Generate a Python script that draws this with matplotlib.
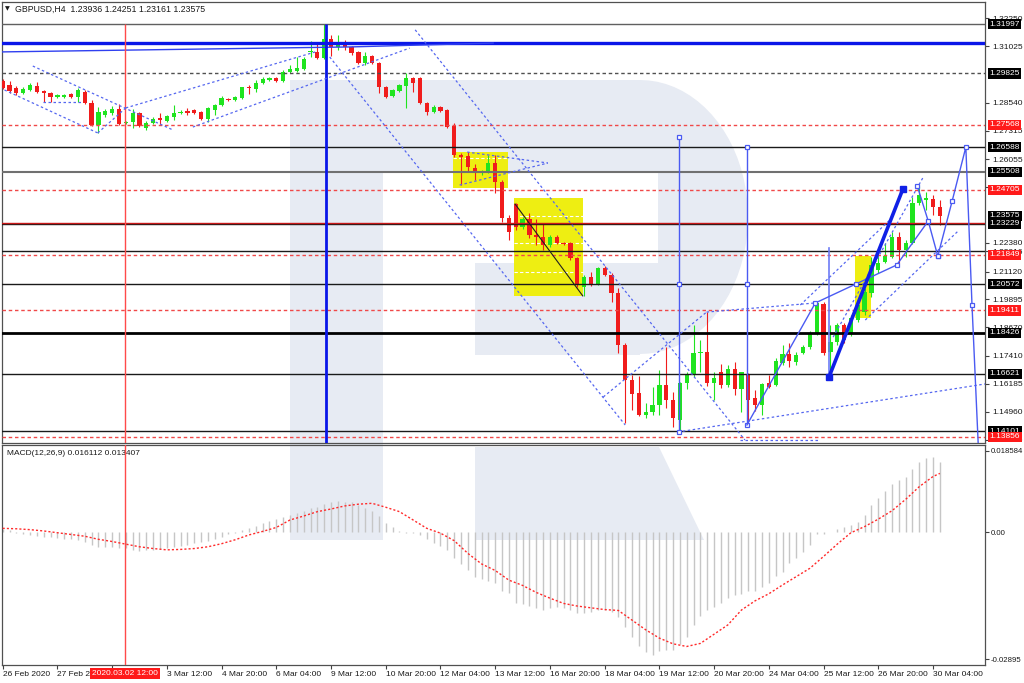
import numpy as np
import matplotlib
matplotlib.use("Agg")
import matplotlib.pyplot as plt
import matplotlib.transforms as mtransforms
from matplotlib.patches import Polygon, Rectangle

plt.rcParams['font.family'] = ['Liberation Sans', 'DejaVu Sans']

# ---------------------------------------------------------
# GBPUSD H4 candles (26 Feb - 30 Mar 2020)
# ---------------------------------------------------------
opens = [
    1.2949, 1.2932, 1.2919, 1.2897, 1.2910, 1.2927, 1.2905, 1.2897, 1.2879, 1.2879,
    1.2892, 1.2879, 1.2901, 1.2853, 1.2756, 1.2800, 1.2809, 1.2826, 1.2765, 1.2769,
    1.2809, 1.2743, 1.2765, 1.2787, 1.2774, 1.2791, 1.2809, 1.2817, 1.2822, 1.2813,
    1.2782, 1.2822, 1.2844, 1.2870, 1.2866, 1.2875, 1.2923, 1.2914, 1.2941, 1.2954,
    1.2963, 1.2949, 1.2989, 1.2993, 1.3002, 1.3077, 1.3077, 1.3050, 1.3134, 1.3099,
    1.3121, 1.3099, 1.3077, 1.3028, 1.3059, 1.3028, 1.2923, 1.2883, 1.2905, 1.2927,
    1.2963, 1.2963, 1.2853, 1.2813, 1.2835, 1.2822, 1.2752, 1.2624, 1.2620, 1.2567,
    1.2545, 1.2549, 1.2589, 1.2506, 1.2347, 1.2409, 1.2308, 1.2343, 1.2273, 1.2264,
    1.2229, 1.2264, 1.2238, 1.2238, 1.2172, 1.2044, 1.2088, 1.2057, 1.2128, 1.2097,
    1.2018, 1.1789, 1.1636, 1.1578, 1.1482, 1.1495, 1.1526, 1.1614, 1.1548, 1.1460,
    1.1622, 1.1657, 1.1754, 1.1759, 1.1622, 1.1671, 1.1614, 1.1684, 1.1596, 1.1662,
    1.1556, 1.1526, 1.1622, 1.1614, 1.1710, 1.1750, 1.1715, 1.1754, 1.1781, 1.1842,
    1.1969, 1.1759, 1.1802, 1.1877, 1.1842, 1.1899, 1.1934, 1.2018, 1.2119, 1.2154,
    1.2176, 1.2264, 1.2207, 1.2238, 1.2413, 1.2426, 1.2431, 1.23936,
]
highs = [
    1.2958, 1.2949, 1.2927, 1.2923, 1.2941, 1.2945, 1.2910, 1.2901, 1.2892, 1.2892,
    1.2897, 1.2919, 1.2910, 1.2866, 1.2835, 1.2826, 1.2839, 1.2848, 1.2774, 1.2826,
    1.2813, 1.2774, 1.2791, 1.2809, 1.2800, 1.2844, 1.2822, 1.2831, 1.2826, 1.2817,
    1.2835, 1.2848, 1.2883, 1.2875, 1.2883, 1.2923, 1.2932, 1.2954, 1.2967, 1.2967,
    1.2967, 1.2998, 1.3020, 1.3055, 1.3055, 1.3125, 1.3116, 1.31997, 1.3151, 1.3151,
    1.3129, 1.3103, 1.3081, 1.3077, 1.3064, 1.3033, 1.2927, 1.2914, 1.2936, 1.2984,
    1.2967, 1.2967, 1.2857, 1.2844, 1.2839, 1.2826, 1.2765, 1.2633, 1.2637, 1.2585,
    1.2558, 1.2624, 1.2624, 1.2514, 1.2361, 1.2413, 1.2352, 1.2369, 1.2343, 1.2325,
    1.2273, 1.2273, 1.2242, 1.2242, 1.2176, 1.2097, 1.2110, 1.2132, 1.2136, 1.2106,
    1.2040, 1.1798, 1.1657, 1.1653, 1.1534, 1.1605, 1.1679, 1.1781, 1.1583, 1.1627,
    1.1671, 1.1877, 1.1811, 1.1934, 1.1671, 1.1706, 1.1701, 1.1715, 1.1671, 1.1666,
    1.1592, 1.1622, 1.1657, 1.1732, 1.1789, 1.1798, 1.1759, 1.1789, 1.1851, 1.1974,
    1.1978, 1.1877, 1.1886, 1.1886, 1.1921, 1.1987, 1.2040, 1.2176, 1.2185, 1.2238,
    1.2286, 1.2286, 1.2251, 1.2440, 1.2488, 1.2462, 1.2448, 1.24251,
]
lows = [
    1.2914, 1.2897, 1.2888, 1.2892, 1.2905, 1.2897, 1.2857, 1.2857, 1.2875, 1.2875,
    1.2875, 1.2857, 1.2848, 1.2752, 1.2721, 1.2791, 1.2800, 1.2756, 1.2760, 1.2743,
    1.2747, 1.2734, 1.2760, 1.2760, 1.2769, 1.2778, 1.2804, 1.2800, 1.2804, 1.2778,
    1.2769, 1.2800, 1.2839, 1.2861, 1.2861, 1.2870, 1.2892, 1.2901, 1.2936, 1.2949,
    1.2945, 1.2945, 1.2984, 1.2989, 1.2998, 1.3055, 1.3046, 1.3046, 1.3059, 1.3086,
    1.3086, 1.3064, 1.3024, 1.3020, 1.3024, 1.2897, 1.2875, 1.2879, 1.2901, 1.2831,
    1.2901, 1.2848, 1.2800, 1.2809, 1.2813, 1.2743, 1.2615, 1.2492, 1.2549, 1.2514,
    1.2536, 1.2545, 1.2457, 1.2330, 1.2251, 1.2295, 1.2299, 1.2259, 1.2229, 1.2207,
    1.2220, 1.2233, 1.2229, 1.2163, 1.2044, 1.2005, 1.2049, 1.2053, 1.2092, 1.1978,
    1.1754, 1.1447, 1.1504, 1.1477, 1.1469, 1.1482, 1.1482, 1.1512, 1.1429, 1.1407,
    1.1596, 1.1649, 1.1671, 1.1609, 1.1548, 1.1600, 1.1605, 1.1570, 1.1495, 1.1438,
    1.1499, 1.1482, 1.1600, 1.1609, 1.1701, 1.1693, 1.1701, 1.1750, 1.1772, 1.1833,
    1.1745, 1.1649, 1.1789, 1.1798, 1.1829, 1.1890, 1.1921, 1.2000, 1.2106, 1.2150,
    1.2172, 1.2150, 1.2176, 1.2233, 1.2404, 1.2382, 1.2361, 1.23161,
]
closes = [
    1.2919, 1.2905, 1.2897, 1.2914, 1.2932, 1.2901, 1.2897, 1.2879, 1.2888, 1.2888,
    1.2879, 1.2910, 1.2853, 1.2756, 1.2813, 1.2817, 1.2826, 1.2760, 1.2769, 1.2809,
    1.2752, 1.2765, 1.2782, 1.2778, 1.2796, 1.2809, 1.2813, 1.2809, 1.2809, 1.2782,
    1.2831, 1.2844, 1.2875, 1.2866, 1.2879, 1.2923, 1.2919, 1.2941, 1.2958, 1.2963,
    1.2949, 1.2989, 1.3002, 1.3006, 1.3046, 1.3081, 1.3050, 1.3134, 1.3099, 1.3121,
    1.3099, 1.3072, 1.3028, 1.3059, 1.3028, 1.2923, 1.2879, 1.2910, 1.2932, 1.2963,
    1.2941, 1.2853, 1.2813, 1.2835, 1.2817, 1.2747, 1.2624, 1.2615, 1.2571, 1.2545,
    1.2554, 1.2589, 1.2506, 1.2347, 1.2286, 1.2308, 1.2343, 1.2273, 1.2264, 1.2229,
    1.2264, 1.2238, 1.2233, 1.2172, 1.2053, 1.2088, 1.2057, 1.2128, 1.2097, 1.2018,
    1.1789, 1.1636, 1.1574, 1.1482, 1.1495, 1.1526, 1.1614, 1.1548, 1.1469, 1.1622,
    1.1657, 1.1754, 1.1759, 1.1622, 1.1644, 1.1614, 1.1684, 1.1596, 1.1671, 1.1548,
    1.1526, 1.1618, 1.1605, 1.1719, 1.1750, 1.1719, 1.1745, 1.1781, 1.1842, 1.1974,
    1.1754, 1.1802, 1.1877, 1.1811, 1.1908, 1.1965, 1.2022, 1.2141, 1.2150, 1.2180,
    1.2264, 1.2207, 1.2238, 1.2413, 1.2448, 1.2435, 1.2396, 1.23575,
]

# MACD histogram (one value per candle) and signal line (every 2nd candle + last)
macd_hist = [
    0.0007, 0.0005, -0.0002, -0.0004, -0.0006, -0.0008, -0.0010, -0.0011, -0.0014, -0.0015,
    -0.0016, -0.0018, -0.0021, -0.0029, -0.0033, -0.0033, -0.0034, -0.0036, -0.0036, -0.0040,
    -0.0042, -0.0040, -0.0040, -0.0039, -0.0036, -0.0034, -0.0031, -0.0029, -0.0025, -0.0021,
    -0.0019, -0.0015, -0.0010, -0.0004, -0.0001, 0.0005, 0.0009, 0.0014, 0.0021, 0.0026,
    0.0030, 0.0034, 0.0040, 0.0045, 0.0049, 0.0055, 0.0058, 0.0065, 0.0070, 0.0071,
    0.0070, 0.0068, 0.0062, 0.0055, 0.0049, 0.0036, 0.0022, 0.0011, 0.0004, -0.0001,
    -0.0002, -0.0006, -0.0016, -0.0025, -0.0031, -0.0040, -0.0059, -0.0072, -0.0086, -0.0101,
    -0.0107, -0.0110, -0.0115, -0.0133, -0.0139, -0.0160, -0.0163, -0.0168, -0.0173, -0.0177,
    -0.0173, -0.0169, -0.0173, -0.0178, -0.0183, -0.0184, -0.0181, -0.0177, -0.0177, -0.0181,
    -0.0192, -0.0216, -0.0239, -0.0260, -0.0273, -0.0279, -0.0270, -0.0269, -0.0268, -0.0254,
    -0.0238, -0.0211, -0.0191, -0.0177, -0.0171, -0.0162, -0.0149, -0.0143, -0.0140, -0.0133,
    -0.0133, -0.0124, -0.0115, -0.0099, -0.0090, -0.0069, -0.0059, -0.0044, -0.0029, -0.0004,
    -0.0003, 0.0000, 0.0007, 0.0011, 0.0017, 0.0024, 0.0040, 0.0062, 0.0077, 0.0093,
    0.0110, 0.0118, 0.0125, 0.0144, 0.0159, 0.0169, 0.0172, 0.0161,
]
signal_bars = list(range(0, 137, 2)) + [137]
signal_vals = [
    0.0009, 0.0008, 0.0006, 0.0003, -0.0001, -0.0005, -0.0009, -0.0016, -0.0021, -0.0027,
    -0.0033, -0.0037, -0.0040, -0.0039, -0.0037, -0.0033, -0.0026, -0.0017, -0.0006, 0.0002,
    0.0011, 0.0028, 0.0037, 0.0047, 0.0053, 0.0060, 0.0064, 0.0066, 0.0057, 0.0047,
    0.0028, 0.0009, -0.0002, -0.0019, -0.0048, -0.0072, -0.0087, -0.0109, -0.0121, -0.0137,
    -0.0150, -0.0162, -0.0168, -0.0172, -0.0176, -0.0178, -0.0200, -0.0222, -0.0241, -0.0254,
    -0.0260, -0.0253, -0.0232, -0.0211, -0.0177, -0.0156, -0.0140, -0.0120, -0.0101, -0.0082,
    -0.0055, -0.0027, -0.0001, 0.0013, 0.0030, 0.0049, 0.0075, 0.0104, 0.0127, 0.013407,
]

# time axis labels, one every 8 candles
time_labels = ['26 Feb 2020', '27 Feb 2020', '', '3 Mar 12:00', '4 Mar 20:00', '6 Mar 04:00',
               '9 Mar 12:00', '10 Mar 20:00', '12 Mar 04:00', '13 Mar 12:00', '16 Mar 20:00',
               '18 Mar 04:00', '19 Mar 12:00', '20 Mar 20:00', '24 Mar 04:00', '25 Mar 12:00',
               '26 Mar 20:00', '30 Mar 04:00']

# horizontal levels drawn on the chart
levels_black = [1.26588, 1.23229, 1.22016, 1.20572, 1.16621, 1.14101]
levels_black_thick = [1.18426]
levels_gray = [1.31997, 1.25508]
levels_gray_dash = [1.29825]
levels_red_dash = [1.27568, 1.24705, 1.21849, 1.19411, 1.13856]
levels_red = [1.2327]
level_blue_thick = 1.3118

# price scale
price_ticks = [1.32250, 1.31025, 1.28540, 1.27315, 1.26055, 1.24830, 1.22380, 1.22016,
               1.21120, 1.19895, 1.18670, 1.17410, 1.16185, 1.14960, 1.13735]
boxes_black = [1.31997, 1.29825, 1.26588, 1.25508, 1.23575, 1.23229, 1.20572,
               1.18426, 1.16621, 1.14101]
boxes_red = [1.27568, 1.24705, 1.21849, 1.19411, 1.13856]

# analysis objects (candle index, price)
yellow_boxes = [(65.8, 73.9, 1.2637, 1.2479), (74.7, 84.8, 1.2435, 1.2005),
                (124.6, 126.9, 1.2180, 1.1908)]
yellow_marks = [(65.8, 73.9, 1.2611), (74.7, 84.8, 1.2356), (74.7, 84.8, 1.2238),
                (74.7, 84.8, 1.2110)]
dashed_lines = [
    ([4.4, 24.9], [1.3015, 1.2734]), ([-0.4, 13.9], [1.2919, 1.2721]),
    ([13.9, 18.0], [1.2721, 1.2831]), ([5.9, 11.7], [1.2857, 1.2857]),
    ([18.0, 45.7], [1.2831, 1.3077]), ([27.8, 59.5], [1.2747, 1.3094]),
    ([60.3, 108.5], [1.3174, 1.1372]), ([47.8, 91.0], [1.3055, 1.1438]),
    ([67.9, 79.7], [1.2637, 1.2589]), ([66.8, 79.7], [1.2492, 1.2589]),
    ([87.8, 102.9], [1.1561, 1.1934]), ([98.7, 143.6], [1.1407, 1.1618]),
    ([107.8, 119.5], [1.1372, 1.1372]), ([102.9, 118.8], [1.1934, 1.1974]),
    ([116.6, 129.7], [1.1965, 1.2339]), ([121.4, 134.5], [1.1824, 1.2523]),
    ([126.1, 139.7], [1.1899, 1.2291]),
]
top_slope_x = [-0.4, 50.8, 71.7]
top_slope_y = [1.3077, 1.3099, 1.3116]
wedge_x = [74.9, 84.8]
wedge_y = [1.2409, 1.2005]
vline_a = (98.9, [1.2703, 1.2057, 1.1407])
vline_b = (108.8, [1.2659, 1.2057, 1.1438])
vline_c = (120.8, [1.2216, 1.1649])
trend_x = [120.8, 131.6]
trend_y = [1.1649, 1.2475]
lower_zz_x = [108.8, 118.8, 124.7, 130.7, 135.3]
lower_zz_y = [1.1438, 1.1974, 1.2057, 1.2141, 1.2334]
fall_x = [133.7, 135.3, 136.7]
fall_y = [1.2488, 1.2334, 1.2180]
fcst_x = [136.7, 138.8, 140.8, 141.7, 142.6]
fcst_y = [1.2180, 1.2422, 1.26588, 1.1965, 1.1359]
peak_bar = 47.3
red_line_bar = 17.9

# ---------------------------------------------------------
# FIGURE
# ---------------------------------------------------------
W, H = 1024, 683
fig = plt.figure(figsize=(W / 100, H / 100), dpi=100, facecolor='white')


def fpt(px, py):
    return (px / W, 1 - py / H)


ax = fig.add_axes([2 / W, 1 - 443 / H, 983 / W, 441.5 / H])
axm = fig.add_axes([2 / W, 1 - 665 / H, 983 / W, 220.5 / H])
for a in (ax, axm):
    a.set_facecolor('none')
    for s in a.spines.values():
        s.set_color('#505050')
        s.set_linewidth(0.9)

# watermark logo behind both panels
arc_t = np.linspace(np.pi / 2, -np.pi / 2, 40)
logo = [fpt(290, 80), fpt(640, 80)]
logo += [fpt(640 + 108 * np.cos(t), 217 - 137 * np.sin(t)) for t in arc_t]
logo += [fpt(640, 355), fpt(475, 355), fpt(475, 263), fpt(658, 263), fpt(658, 173),
         fpt(383, 173), fpt(383, 540), fpt(290, 540)]
leg = [fpt(475, 447), fpt(659, 447), fpt(704, 540), fpt(475, 540)]
for shape in (logo, leg):
    fig.add_artist(Polygon(shape, closed=True, fc='#e7ebf3', ec='none',
                           zorder=-5, transform=fig.transFigure))

n = len(opens)
x = np.arange(n)
o, h, l, c = (np.array(v) for v in (opens, highs, lows, closes))

YMIN, YMAX = 1.13587, 1.32986
ax.set_xlim(-0.1, 143.6)
ax.set_ylim(YMIN, YMAX)
axm.set_xlim(-0.1, 143.6)
axm.set_ylim(-0.03022, 0.01999)

# yellow rectangles under the candles
for x0, x1, p0, p1 in yellow_boxes:
    ax.add_patch(Rectangle((x0, p1), x1 - x0, p0 - p1, fc='#eeee12', ec='none', zorder=1))
for x0, x1, p in yellow_marks:
    ax.plot([x0, x1], [p, p], color='white', lw=0.8, ls=(0, (3, 2)), zorder=1.5)

# candles
GREEN, RED = '#1fe41f', '#f01c1c'
col = np.where(c >= o, GREEN, RED)
ax.vlines(x, l, h, colors=col, lw=0.8, zorder=3)
ax.bar(x, np.maximum(np.abs(c - o), 0.00025), bottom=np.minimum(o, c), width=0.62,
       color=col, linewidth=0, zorder=3.1)

# horizontal levels
for p in levels_black:
    ax.axhline(p, color='#1a1a1a', lw=1.0, zorder=4)
for p in levels_black_thick:
    ax.axhline(p, color='#000000', lw=2.0, zorder=4)
ax.axhline(levels_gray[0], color='#606060', lw=1.0, zorder=4)
ax.axhline(levels_gray[1], color='#707070', lw=1.5, zorder=4)
for p in levels_gray_dash:
    ax.axhline(p, color='#505050', lw=1.0, ls=(0, (2.5, 2)), zorder=4)
for p in levels_red_dash:
    ax.axhline(p, color='#f04848', lw=1.0, ls=(0, (2.5, 2)), zorder=4)
for p in levels_red:
    ax.axhline(p, color='#c81818', lw=1.0, zorder=4)
ax.axhline(level_blue_thick, color='#0a16e8', lw=2.4, zorder=4)
ax.plot(top_slope_x, top_slope_y, color='#3040f0', lw=1.0, zorder=4)

# vertical lines
ax.vlines(red_line_bar, YMIN, 1.31997, color='#ff4a4a', lw=1.0, zorder=4)
axm.axvline(red_line_bar, color='#ff4a4a', lw=1.0, zorder=4)
ax.vlines(peak_bar, YMIN, 1.31997, color='#0a16e8', lw=2.0, zorder=4)

BLUE = '#4a5af2'
for xb, ys in (vline_a, vline_b):
    ax.plot([xb] * len(ys), ys, color=BLUE, lw=1.0, marker='s', ms=3.5,
            mfc='white', mec=BLUE, mew=0.9, zorder=5)
ax.plot([vline_c[0]] * 2, vline_c[1], color='#6d7cf6', lw=1.2, zorder=4)

# dashed channels
for xs, ys in dashed_lines:
    ax.plot(xs, ys, color='#5567f0', lw=0.9, ls=(0, (2, 2)), zorder=4)
ax.plot(wedge_x, wedge_y, color='#202020', lw=0.8, zorder=4)

# wave markup
ax.plot(trend_x, trend_y, color='#1020e6', lw=2.6, marker='s', ms=4.5,
        mfc='#1020e6', mec='#1020e6', zorder=6)
ax.plot(lower_zz_x, lower_zz_y, color=BLUE, lw=1.0, zorder=5)
ax.plot(lower_zz_x[1:4], lower_zz_y[1:4], ls='none', marker='s', ms=3.5,
        mfc='white', mec=BLUE, mew=0.9, zorder=5)
ax.plot(fall_x, fall_y, color=BLUE, lw=1.0, marker='s', ms=3.5, mfc='white',
        mec=BLUE, mew=0.9, zorder=5)
ax.plot(fcst_x, fcst_y, color=BLUE, lw=1.0, zorder=5)
ax.plot(fcst_x[:-1], fcst_y[:-1], ls='none', marker='s', ms=3.5, mfc='white',
        mec=BLUE, mew=0.9, zorder=5)

# price scale on the right
FS = 6.0
ax.set_xticks([])
ax.yaxis.tick_right()
ax.set_yticks(price_ticks)
ax.set_yticklabels([f'{p:.5f}' for p in price_ticks])
ax.tick_params(axis='y', labelsize=FS, length=3, width=0.8, pad=2,
               color='#404040', labelcolor='#1a1a1a')
tr = mtransforms.blended_transform_factory(ax.transAxes, ax.transData)
for prices, fc in ((boxes_black, '#000000'), (boxes_red, '#ff1a1a')):
    for p in prices:
        ax.text(1.0045, p, f'{p:.5f}', transform=tr, fontsize=FS, color='white',
                va='center', ha='left', clip_on=False, zorder=10,
                bbox=dict(boxstyle='square,pad=0.2', fc=fc, ec='none'))

# MACD panel
axm.vlines(x, 0, macd_hist, colors='#c6c6c6', lw=1.0, zorder=2)
axm.plot(signal_bars, signal_vals, color='#ff2a2a', lw=1.0, ls=(0, (1.5, 1.5)), zorder=3)
axm.yaxis.tick_right()
axm.set_yticks([0.018584, 0.0, -0.02895])
axm.set_yticklabels(['0.018584', '0.00', '-0.02895'])
axm.tick_params(axis='y', labelsize=5.6, length=3, width=0.8, pad=1.0,
                color='#404040', labelcolor='#1a1a1a')
axm.text(0.005, 0.975, 'MACD(12,26,9) 0.016112 0.013407', transform=axm.transAxes,
         fontsize=FS, va='top', ha='left', color='#1a1a1a')

axm.set_xticks(np.arange(0, n, 8))
axm.set_xticklabels(time_labels)
axm.tick_params(axis='x', labelsize=FS, length=3, width=0.8, pad=1.5,
                color='#404040', labelcolor='#1a1a1a')
for t in axm.get_xticklabels():
    t.set_horizontalalignment('left')
trx = mtransforms.blended_transform_factory(axm.transData, axm.transAxes)
axm.text(red_line_bar, -0.038, '2020.03.02 12:00', transform=trx, fontsize=FS,
         color='white', ha='center', va='center', clip_on=False, zorder=10,
         bbox=dict(boxstyle='square,pad=0.25', fc='#ff1a1a', ec='none'))

# header
fig.text(5 / W, 1 - 9 / H, '\u25bc', fontsize=4.5, va='center', ha='left',
         color='#1a1a1a', family=['DejaVu Sans'])
fig.text(15 / W, 1 - 9 / H, 'GBPUSD,H4  1.23936 1.24251 1.23161 1.23575',
         fontsize=6.3, va='center', ha='left', color='#1a1a1a')

fig.savefig('out.png', dpi=100, facecolor='white')
